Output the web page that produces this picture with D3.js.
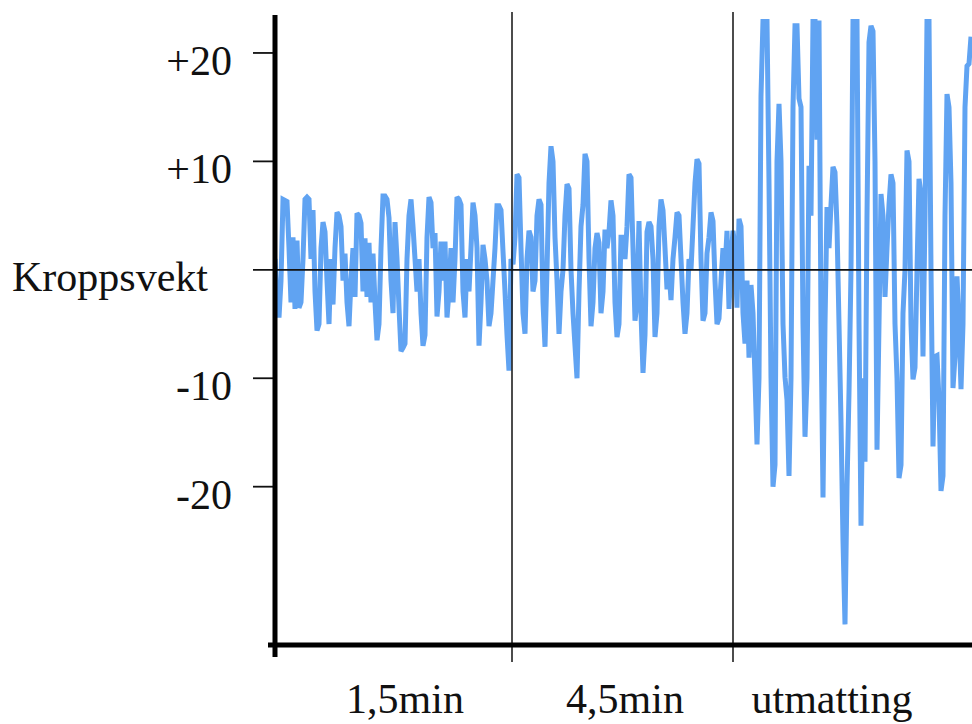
<!DOCTYPE html>
<html>
<head>
<meta charset="utf-8">
<script src="https://cdn.jsdelivr.net/npm/d3@7"></script>
<style>
  html, body { margin: 0; padding: 0; background: #fff; }
  svg { display: block; }
  text { font-family: "Liberation Serif", "Times New Roman", serif; fill: #111; }
</style>
</head>
<body>
<svg id="chart" width="972" height="724"></svg>
<script>
// Body-weight force signal (deviation from body weight), sampled at a fixed rate.
// Phase 1: first 1,5 min, phase 2: 4,5 min, phase 3: exhaustion.
const phase1Weight = [
  1, -3, -4.4, -1, 6.5, 6.4, 6.3, 2, -3, 3,
  -3.6, 2.7, -3.5, -3, 1, 6.5, 6.7, 6.5, 1, 5.5,
  -2, -5.6, -5, 2, 4.4, 3.5, -1, -5, 1, -3.2,
  2, 5.3, 5, 4, -1, 1.5, -3, -5.2, -1, 2,
  -2.5, 5.2, 5, 4.3, -2, 2.9, -2.5, 2.5, -3, 1.5,
  -3, -6.5, -5, 2, 6.8, 6.8, 6.5, 4.8, -1, -4,
  4.4, 1, -3.5, -7.5, -7.2, -6.8, 1, 5, 6.5, 4,
  1, -2, 1, -4, -7, -6, 3, 6.7, 6.2, 2,
  3.4, -4.3, -2, 2.6, -1, 2.6, -4.4, -2, 2, -3,
  1, 6.7, 6.5, 6, -2, -4.4, 1, -2, 2, 6.2,
  5, 2, -7, -3, 2.3, 1, -1, -5.2, -4, -1,
  2, 5.9, 5.9, 5.5, 1.7, -2, -6, -9.3, 1
];
const phase2Weight = [
  0.5, 3, 8.8, 8.5, 2, -4, -5.9, 1, 3.6, 3,
  -2, -1, 5, 6.5, 6, -3, -7.1, 0, 8, 11.4,
  10, 3, -1, -5.9, -2, 0, 5, 7.9, 7.5, 0,
  -4, -7, -10, -2, 4, 6, 10.7, 10, 1, -5.2,
  -3, 2, 3.4, 2.5, -4, -2, 3.7, 2, 3.5, 6.4,
  5, -3, -6.2, -5, 3, 3, 1, 4, 8.8, 8.5,
  2, -4.7, -3, 4.5, -4, -9.5, -6, 3.5, 4.4, 4,
  1, -6.2, -4, 4, 6.5, 5.5, 2, -1.8, 0, -2.8,
  1, 3, 5.3, 5, 1, -3, -5.9, -4, 1, 0,
  4, 8, 10.2, 9.8, 1, -4.7, -4, 1.5, 3, 5.3,
  4.5, -1, -5, -4.5, -1, 2, 0, 3.6, -3.6, 1
];
const phase3Weight = [
  3.6, 2, -3.5, 4.7, 4, -4, -6.8, -1, -8.1, -1.4,
  -4, -10, -16.1, -10, 16, 23, 23, 23, 8, -10,
  -20, -18, 10, 15.3, 10, -5, -9.9, -12, -19, -10,
  15, 22.5, 22.5, 15.8, 15, -5, -15.4, -10, 9.6, 5,
  23, 23, 12, 23, -5, -21, -5, 5.8, 2, 6,
  9.5, 9, 4, -5, -14, -25, -32.7, -20, -11.3, 0,
  23, 23, 23, -5, -23.6, -10, -17.7, 5, 21, 22.5,
  22, 10, -16.6, -5, 7, 5, -2.5, 2, 6, 8.8,
  8, -5, -10, -19.2, -18, -4, 0, 11, 10, -5,
  -10.1, -9, 0, 8.4, 7, -8, 5, 23, 23, 0,
  -16.3, -8, -7.9, -12, -20.4, -19, 5, 16.2, 15, 8,
  -10.9, -8, -0.6, -5, -11, -5, 15, 18.8, 19, 21.5
];

// Sample-index boundaries between phases and where each phase name sits.
const phaseStart = [0, 119, 229];
const phaseBounds = [118.5, 229];
const phaseNames = ["1,5min", "4,5min", "utmatting"];
const phaseLabelAt = [65, 175, 278.5];

// Y-axis ticks and their labels.
const yTicks = [20, 10, -10, -20];
const yTickLabels = ["+20", "+10", "-10", "-20"];
const yTitle = "Kroppsvekt";

const timeDomain = [0, 348.5];
const weightDomain = [-34.6, 23.5];

const series = [];
[phase1Weight, phase2Weight, phase3Weight].forEach((arr, p) => {
  arr.forEach((v, i) => series.push({ t: phaseStart[p] + i, v }));
});

const svg = d3.select("#chart");
const x = d3.scaleLinear().domain(timeDomain).range([275, 972]);
const y = d3.scaleLinear().domain(weightDomain).range([645, 15]);

// clip region for the signal
svg.append("defs").append("clipPath").attr("id", "plot-clip")
  .append("rect")
  .attr("x", x(timeDomain[0])).attr("y", y(weightDomain[1]) + 4)
  .attr("width", x(timeDomain[1]) - x(timeDomain[0]))
  .attr("height", y(weightDomain[0]) - y(weightDomain[1]));

// signal trace
const line = d3.line().x(d => x(d.t)).y(d => y(d.v));
svg.append("path")
  .datum(series)
  .attr("clip-path", "url(#plot-clip)")
  .attr("d", line)
  .attr("fill", "none")
  .attr("stroke", "#60a3f2")
  .attr("stroke-width", 5)
  .attr("stroke-linejoin", "miter")
  .attr("stroke-miterlimit", 2);

// zero reference line
svg.append("line")
  .attr("x1", x(0) - 22).attr("x2", x(timeDomain[1]))
  .attr("y1", y(0)).attr("y2", y(0))
  .attr("stroke", "#111").attr("stroke-width", 1.8);

// phase boundaries
svg.selectAll(".phase-line").data(phaseBounds).join("line")
  .attr("class", "phase-line")
  .attr("x1", d => x(d)).attr("x2", d => x(d))
  .attr("y1", y(weightDomain[1]) - 3).attr("y2", y(weightDomain[0]) + 17)
  .attr("stroke", "#111").attr("stroke-width", 1.5);

// y ticks
svg.selectAll(".ytick").data(yTicks).join("line")
  .attr("class", "ytick")
  .attr("x1", x(0) - 22).attr("x2", x(0))
  .attr("y1", d => y(d)).attr("y2", d => y(d))
  .attr("stroke", "#111").attr("stroke-width", 1.8);

svg.selectAll(".ylabel").data(yTicks).join("text")
  .attr("class", "ylabel")
  .attr("x", x(0) - 43)
  .attr("y", d => y(d) + 22)
  .attr("text-anchor", "end")
  .attr("font-size", 42)
  .text((d, i) => yTickLabels[i]);

svg.append("text")
  .attr("x", 12).attr("y", y(0) + 21)
  .attr("font-size", 42)
  .text(yTitle);

// axes
svg.append("line")
  .attr("x1", x(0)).attr("x2", x(0))
  .attr("y1", y(weightDomain[1])).attr("y2", y(weightDomain[0]) + 12)
  .attr("stroke", "#000").attr("stroke-width", 5);
svg.append("line")
  .attr("x1", x(0) - 7).attr("x2", x(timeDomain[1]))
  .attr("y1", y(weightDomain[0])).attr("y2", y(weightDomain[0]))
  .attr("stroke", "#000").attr("stroke-width", 5);

// phase names
svg.selectAll(".xlabel").data(phaseNames).join("text")
  .attr("class", "xlabel")
  .attr("x", (d, i) => x(phaseLabelAt[i]))
  .attr("y", 713)
  .attr("text-anchor", "middle")
  .attr("font-size", 42)
  .text(d => d);
</script>
</body>
</html>
